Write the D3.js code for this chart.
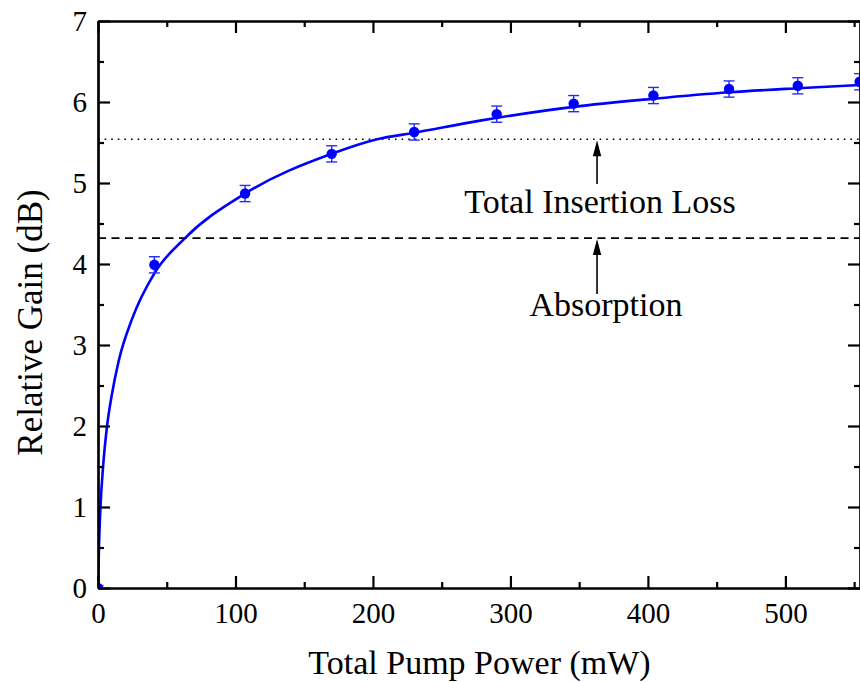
<!DOCTYPE html>
<html>
<head>
<meta charset="utf-8">
<script src="https://cdn.jsdelivr.net/npm/d3@7"></script>
<style>
  html, body { margin: 0; padding: 0; background: #fff; }
  svg { display: block; }
  text { font-family: "Liberation Serif", "Times New Roman", serif; fill: #000; }
</style>
</head>
<body>
<svg id="chart" width="860" height="682"></svg>
<script>
// ---- Data ----
const powerMW = [0, 41, 107, 170, 230, 290, 346, 404, 459, 509, 554];
const gainDB  = [0, 3.99, 4.87, 5.36, 5.63, 5.85, 5.98, 6.08, 6.16, 6.20, 6.25];
const gainErr = [0.03, 0.1, 0.1, 0.1, 0.1, 0.1, 0.1, 0.1, 0.1, 0.1, 0.1];

const fitPower = [0, 0.7, 1.8, 3.7, 6.6, 10, 15, 24.5, 41, 63.3, 107, 170, 203, 230, 278, 346, 404, 459, 509, 555];
const fitGain  = [0, 0.5, 1.0, 1.5, 2.0, 2.38, 2.8, 3.31, 3.885, 4.32, 4.87, 5.36, 5.54, 5.62, 5.77, 5.94, 6.04, 6.12, 6.17, 6.21];

const insertionLossDB = 5.54;
const absorptionDB = 4.32;
const annotationPower = 363;

const xMajorTicks = [0, 100, 200, 300, 400, 500];
const xMinorTicks = [50, 150, 250, 350, 450, 550];
const yMajorTicks = [0, 1, 2, 3, 4, 5, 6, 7];
const yMinorTicks = [0.5, 1.5, 2.5, 3.5, 4.5, 5.5, 6.5];

const xTitle = "Total Pump Power (mW)";
const yTitle = "Relative Gain (dB)";
const lossLabel = "Total Insertion Loss";
const absLabel = "Absorption";

// ---- Layout ----
const svg = d3.select("#chart");
const L = 98, T = 21, R = 861, B = 588;
const x = d3.scaleLinear().domain([0, 555]).range([L, R]);
const y = d3.scaleLinear().domain([0, 7]).range([B, T]);
const blue = "#0000ff";

svg.append("defs").append("clipPath").attr("id", "plotclip")
  .append("rect").attr("x", L).attr("y", T).attr("width", R - L).attr("height", B - T);

const plot = svg.append("g").attr("clip-path", "url(#plotclip)");

// Reference lines
plot.append("line")
  .attr("x1", x(0)).attr("x2", x(555))
  .attr("y1", y(insertionLossDB)).attr("y2", y(insertionLossDB))
  .attr("stroke", "#000").attr("stroke-width", 1.6).attr("stroke-dasharray", "1.6,5");
plot.append("line")
  .attr("x1", x(0)).attr("x2", x(555))
  .attr("y1", y(absorptionDB)).attr("y2", y(absorptionDB))
  .attr("stroke", "#000").attr("stroke-width", 1.6).attr("stroke-dasharray", "8,5.5");

// Fit curve
const fitData = fitPower.map((p, i) => [p, fitGain[i]]);
plot.append("path")
  .datum(fitData)
  .attr("fill", "none")
  .attr("stroke", blue)
  .attr("stroke-width", 2.6)
  .attr("d", d3.line().x(d => x(d[0])).y(d => y(d[1])).curve(d3.curveMonotoneX));

// Error bars & points
const pts = powerMW.map((p, i) => ({ p, g: gainDB[i], e: gainErr[i] }));
const eb = plot.append("g").attr("stroke", "#2a2aff").attr("stroke-width", 1.4);
pts.forEach(d => {
  const cx = x(d.p);
  eb.append("line").attr("x1", cx).attr("x2", cx).attr("y1", y(d.g - d.e)).attr("y2", y(d.g + d.e));
  eb.append("line").attr("x1", cx - 5.5).attr("x2", cx + 5.5).attr("y1", y(d.g + d.e)).attr("y2", y(d.g + d.e));
  eb.append("line").attr("x1", cx - 5.5).attr("x2", cx + 5.5).attr("y1", y(d.g - d.e)).attr("y2", y(d.g - d.e));
});
plot.append("g").selectAll("circle").data(pts).join("circle")
  .attr("cx", d => x(d.p)).attr("cy", d => y(d.g)).attr("r", 5.2)
  .attr("fill", blue);

// Axes
function styleAxis(g) {
  g.selectAll("path.domain").attr("stroke", "#000").attr("stroke-width", 2.2);
  g.selectAll(".tick line").attr("stroke", "#000").attr("stroke-width", 2.2);
  g.selectAll(".tick text").attr("font-family", "Liberation Serif").attr("font-size", 29).attr("fill", "#000");
}
svg.append("g").attr("transform", `translate(0,${B})`)
  .call(d3.axisBottom(x).tickValues(xMinorTicks).tickSize(-6).tickSizeOuter(0).tickFormat(""))
  .call(styleAxis);
svg.append("g").attr("transform", `translate(0,${B})`)
  .call(d3.axisBottom(x).tickValues(xMajorTicks).tickSize(-12).tickSizeOuter(0).tickPadding(14).tickFormat(d3.format("d")))
  .call(styleAxis);
svg.append("g").attr("transform", `translate(0,${T})`)
  .call(d3.axisTop(x).tickValues(xMinorTicks).tickSize(-6).tickSizeOuter(0).tickFormat(""))
  .call(styleAxis);
svg.append("g").attr("transform", `translate(0,${T})`)
  .call(d3.axisTop(x).tickValues(xMajorTicks).tickSize(-12).tickSizeOuter(0).tickFormat(""))
  .call(styleAxis);
svg.append("g").attr("transform", `translate(${L},0)`)
  .call(d3.axisLeft(y).tickValues(yMinorTicks).tickSize(-6).tickSizeOuter(0).tickFormat(""))
  .call(styleAxis);
svg.append("g").attr("transform", `translate(${L},0)`)
  .call(d3.axisLeft(y).tickValues(yMajorTicks).tickSize(-12).tickSizeOuter(0).tickPadding(11).tickFormat(d3.format("d")))
  .call(styleAxis);
svg.append("g").attr("transform", `translate(${R - 1},0)`)
  .call(d3.axisRight(y).tickValues(yMinorTicks).tickSize(-6).tickSizeOuter(0).tickFormat(""))
  .call(styleAxis);
svg.append("g").attr("transform", `translate(${R - 1},0)`)
  .call(d3.axisRight(y).tickValues(yMajorTicks).tickSize(-12).tickSizeOuter(0).tickFormat(""))
  .call(styleAxis);

// Axis titles
svg.append("text")
  .attr("x", (L + R) / 2).attr("y", 674)
  .attr("text-anchor", "middle").attr("font-size", 34)
  .text(xTitle);
svg.append("text")
  .attr("transform", `translate(42,${(T + B) / 2 + 18}) rotate(-90)`)
  .attr("text-anchor", "middle").attr("font-size", 35)
  .text(yTitle);

// Annotations with arrows
function arrow(px, yTail, yTip) {
  const g = svg.append("g");
  g.append("line").attr("x1", px).attr("x2", px).attr("y1", yTail).attr("y2", yTip + 12)
    .attr("stroke", "#000").attr("stroke-width", 1.6);
  g.append("path")
    .attr("d", `M${px},${yTip} L${px - 4.2},${yTip + 16} L${px + 4.2},${yTip + 16} Z`)
    .attr("fill", "#000");
}
const ax = x(annotationPower);
arrow(ax, 184, y(insertionLossDB) + 1);
arrow(ax, 294, y(absorptionDB) + 1);

svg.append("text")
  .attr("x", 600).attr("y", 212.5)
  .attr("text-anchor", "middle").attr("font-size", 34)
  .text(lossLabel);
svg.append("text")
  .attr("x", 606).attr("y", 316)
  .attr("text-anchor", "middle").attr("font-size", 34)
  .text(absLabel);
</script>
</body>
</html>
